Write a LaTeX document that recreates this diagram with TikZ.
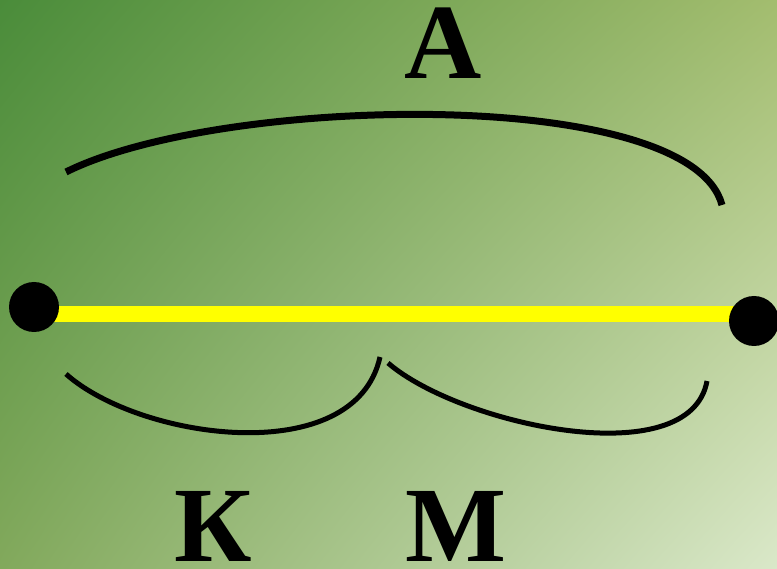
\documentclass[tikz,border=0pt]{standalone}
\usepackage{fontspec}
\setmainfont{Liberation Serif}
\usepackage{xcolor}
\usepackage{tikz}
\usetikzlibrary{shadings}
\definecolor{bgdark}{HTML}{4A8C3A}
\definecolor{bgtopright}{HTML}{A3BD6F}
\definecolor{bgbotleft}{HTML}{82A95C}
\definecolor{bglight}{HTML}{DAE8C9}
\definecolor{segyellow}{HTML}{FFFF00}

\begin{document}
\begin{tikzpicture}[x=1pt,y=-1pt,
    endpt/.style={circle,fill=black,inner sep=0pt,minimum size=50pt},
    lbl/.style={anchor=base,inner sep=0pt,font=\fontsize{107}{107}\selectfont\bfseries},
    arc/.style={line width=5pt}]
  \useasboundingbox (0,0) rectangle (777,569);
  \shade[upper left=bgdark,upper right=bgtopright,lower left=bgbotleft,lower right=bglight]
    (0,0) rectangle (777,569);
  % the segment
  \coordinate (segL) at (34,314);
  \coordinate (segR) at (754,314);
  \draw[segyellow,line width=16.5pt] (segL)--(segR);
  \node[endpt] (ptL) at (34,307) {};
  \node[endpt] (ptR) at (754,321) {};
  % arcs
  \draw[arc,line width=7pt] (66,172) .. controls (220,95) and (690,85) .. (722,205);
  \draw[arc] (66,374) .. controls (140,440) and (355,470) .. (380,357);
  \draw[arc] (388,363) .. controls (460,425) and (690,475) .. (707,381);
  % letters
  \node[lbl] (a) at (443,79) {А};
  \node[lbl] (k) at (213,561) {К};
  \node[lbl] (m) at (456,561) {М};
\end{tikzpicture}
\end{document}
